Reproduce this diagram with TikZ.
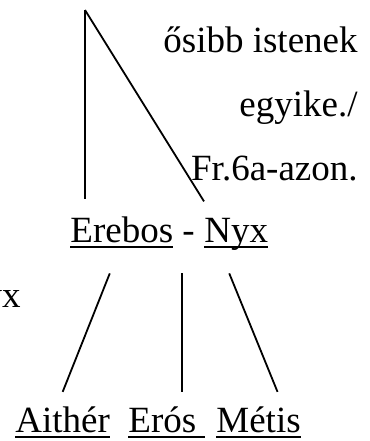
\documentclass[tikz,border=0pt]{standalone}
\usepackage{fontspec}
\setmainfont{Liberation Serif}
\usetikzlibrary{calc}
\newcommand{\uword}[1]{\setbox0=\hbox{#1}\rlap{\rule[-3pt]{\wd0}{0.9pt}}\box0}
\tikzstyle{every node}=[font=\fontsize{18.5}{22}\selectfont, inner sep=0pt]
\tikzstyle{god} = [anchor=base west]
\tikzstyle{note} = [anchor=base east]
\tikzstyle{branch} = [line width=0.9pt]

\begin{document}
\begin{tikzpicture}[x=0.5pt, y=-0.5pt]
  \useasboundingbox (0,0) rectangle (370,441);
  \coordinate (apex) at (85,10);

  \node (note1) [note] at (358,52) {ősibb istenek};
  \node (note2) [note] at (358,116) {egyike./};
  \node (note3) [note] at (358,180) {Fr.6a-azon.};

  \node (ereb) [god] at (70,242) {\uword{Erebos}};
  \node (dash) [god] at (182,242) {-};
  \node (nyx) [god] at (204,242) {\uword{Nyx}};
  \node (nyxcut) [note] at (21,307) {Nyx};

  \node (aither) [god] at (15,432) {\uword{Aithér}};
  \node (eros) [god] at (128,432) {\uword{Erós\ }};
  \node (metis) [god] at (216,432) {\uword{Métis}};

  \draw [branch, shorten >=8.5pt] (apex) -- (apex |- ereb.north);
  \draw [branch] (apex) -- ([yshift=8pt]nyx.north west);

  \draw [branch] ([xshift=-6pt,yshift=-12.5pt]ereb.south) -- ([yshift=7pt]aither.north);
  \draw [branch, shorten <=15.5pt, shorten >=7pt] (dash.south west) -- (dash.south west |- eros.north);
  \draw [branch] ([xshift=-3.5pt,yshift=-11.5pt]nyx.south) -- ([xshift=9.5pt,yshift=7pt]metis.north);
\end{tikzpicture}
\end{document}
